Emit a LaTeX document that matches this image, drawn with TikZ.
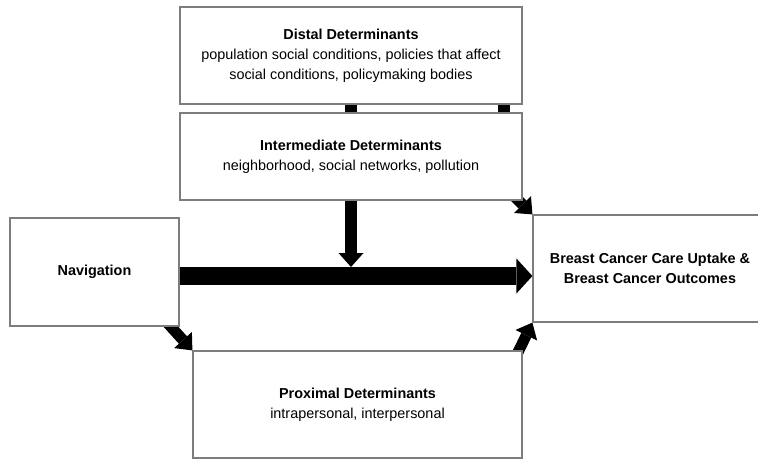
\documentclass[tikz,border=0pt]{standalone}
\usepackage{fontspec}
\setmainfont{Liberation Sans}
\usetikzlibrary{arrows.meta,backgrounds}
\definecolor{boxgray}{RGB}{125,125,125}
\begin{document}
\begin{tikzpicture}[x=1pt,y=-1pt,
  box/.style={draw=boxgray, line width=1.2pt, fill=white, inner sep=0pt,
    font=\fontsize{14.4}{20}\selectfont, align=center},
  bar/.style={line width=12pt},
  bigarrow/.style={line width=18pt, -{Triangle[length=16pt,width=35pt,line width=0pt]}},
  midarrow/.style={line width=12pt, -{Triangle[length=14pt,width=25pt,line width=0pt]}},
  diagarrow/.style={line width=11pt, -{Triangle[length=14pt,width=24pt,line width=0pt]}}
]
\useasboundingbox (0,0) rectangle (758,461);

\node[box, minimum width=342pt, minimum height=97pt] (distal) at (351,55.5)
  {\textbf{Distal Determinants}\\population social conditions, policies that affect\\social conditions, policymaking bodies};
\node[box, minimum width=342pt, minimum height=87pt] (inter) at (351,156.5)
  {\textbf{Intermediate Determinants}\\neighborhood, social networks, pollution};
\node[box, minimum width=169pt, minimum height=108pt] (nav) at (94.5,272)
  {\textbf{Navigation}};
\node[box, minimum width=234pt, minimum height=107pt] (breast) at (650,268.5)
  {\textbf{Breast Cancer Care Uptake \&}\\\textbf{Breast Cancer Outcomes}};
\node[box, minimum width=329pt, minimum height=107pt] (prox) at (357.5,404.5)
  {\textbf{Proximal Determinants}\\intrapersonal, interpersonal};

\coordinate (mainstart) at ([yshift=-4pt]nav.east);
\coordinate (maintop) at ([yshift=5pt]nav.east);

\begin{pgfonlayer}{background}
  \fill[white] (0,0) rectangle (758,461);
  \draw[bar] (distal.south) -- (inter.north);
  \draw[bar] ([xshift=152.5pt]distal.south) -- ([xshift=152.5pt]inter.north);
  \draw[bigarrow] (mainstart) -- (mainstart -| breast.west);
  \draw[midarrow] (inter.south) -- (inter.south |- maintop);
  \draw[diagarrow] ([xshift=-17pt,yshift=9pt]nav.south east) -- (prox.north west);
  \draw[diagarrow] ([xshift=-10pt,yshift=-13pt]prox.north east) -- (breast.south west);
  \draw[diagarrow] ([xshift=-14pt,yshift=10pt]inter.south east) -- (breast.north west);
\end{pgfonlayer}
\end{tikzpicture}
\end{document}
